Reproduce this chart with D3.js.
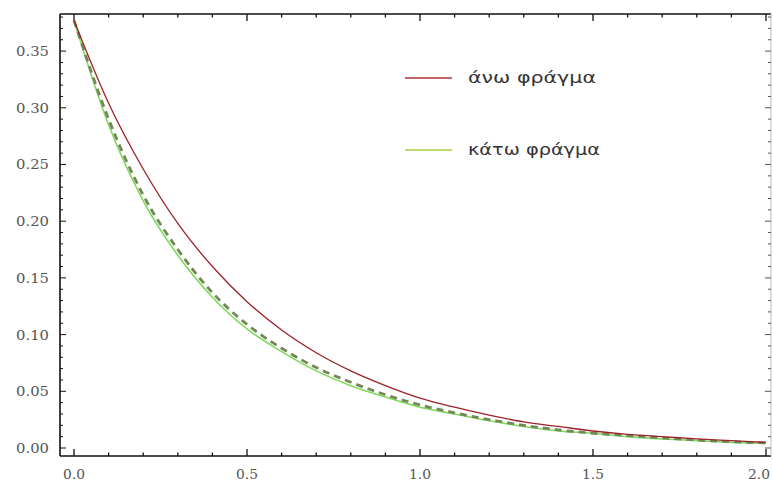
<!DOCTYPE html>
<html><head><meta charset="utf-8">
<script src="https://cdn.jsdelivr.net/npm/d3@7"></script>
<style>body{margin:0;background:#fff;}svg{display:block;}</style>
</head><body>
<svg id="c" width="773" height="484"></svg>
<script>
const xs = [0,0.1,0.2,0.3,0.4,0.5,0.6,0.7,0.8,0.9,1.0,1.1,1.2,1.3,1.4,1.5,1.6,1.7,1.8,1.9,2.0];
const upperBound = [0.377,0.304,0.246,0.198,0.160,0.129,0.104,0.084,0.068,0.055,0.044,0.036,0.029,0.023,0.019,0.015,0.012,0.010,0.008,0.0065,0.005];
const middleDashed = [0.377,0.290,0.223,0.175,0.137,0.109,0.088,0.071,0.058,0.047,0.038,0.031,0.025,0.020,0.016,0.013,0.011,0.009,0.007,0.0055,0.0045];
const lowerBound = [0.377,0.285,0.218,0.170,0.133,0.105,0.085,0.068,0.055,0.045,0.036,0.030,0.024,0.019,0.015,0.013,0.010,0.008,0.0065,0.005,0.004];
const yTicks = [0,0.05,0.10,0.15,0.20,0.25,0.30,0.35];
const xTicks = [0,0.5,1.0,1.5,2.0];
const legendLabels = ["άνω φράγμα","κάτω φράγμα"];

const svg = d3.select("#c");
const L=60,R=771,T=14,B=456;
const x = d3.scaleLinear().domain([-0.0405,2.0145]).range([L,R]);
const y = d3.scaleLinear().domain([-0.00705,0.3827]).range([B,T]);

const g = svg.append("g");
g.append("rect").attr("x",L).attr("y",T).attr("width",R-L).attr("height",B-T)
 .attr("fill","#fff").attr("stroke","none");
// frame lines
g.append("line").attr("x1",L).attr("x2",L).attr("y1",T).attr("y2",B).attr("stroke","#111").attr("stroke-width",1.6);
g.append("line").attr("x1",L).attr("x2",R).attr("y1",B).attr("y2",B).attr("stroke","#111").attr("stroke-width",1.6);
g.append("line").attr("x1",L).attr("x2",R).attr("y1",T).attr("y2",T).attr("stroke","#111").attr("stroke-width",1.6);
g.append("line").attr("x1",R).attr("x2",R).attr("y1",T).attr("y2",B).attr("stroke","#bbb").attr("stroke-width",1);

const yMinor = d3.range(0,0.381,0.01);
const xMinor = d3.range(0,2.01,0.1);
function isMajor(v,step){return Math.abs(v/step-Math.round(v/step))<1e-6;}
yMinor.forEach(v=>{
  const len = isMajor(v,0.05)?6:3;
  g.append("line").attr("x1",L).attr("x2",L+len).attr("y1",y(v)).attr("y2",y(v)).attr("stroke","#111");
  g.append("line").attr("x1",R).attr("x2",R-len).attr("y1",y(v)).attr("y2",y(v)).attr("stroke","#555");
});
xMinor.forEach(v=>{
  const len = isMajor(v,0.5)?7:3.5;
  g.append("line").attr("y1",B).attr("y2",B-len).attr("x1",x(v)).attr("x2",x(v)).attr("stroke","#111").attr("stroke-width",1.3);
  g.append("line").attr("y1",T).attr("y2",T+len).attr("x1",x(v)).attr("x2",x(v)).attr("stroke","#111").attr("stroke-width",1.3);
});

g.selectAll(".yl").data(yTicks).enter().append("text")
 .attr("x",49).attr("y",d=>y(d)+5).attr("text-anchor","end")
 .attr("font-family","DejaVu Serif").attr("font-size",13).attr("fill","#555")
 .attr("textLength",33).attr("lengthAdjust","spacingAndGlyphs")
 .text(d=>d.toFixed(2));
g.selectAll(".xl").data(xTicks).enter().append("text")
 .attr("x",d=>Math.min(x(d),759)).attr("y",479).attr("text-anchor","middle")
 .attr("font-family","DejaVu Serif").attr("font-size",13).attr("fill","#555")
 .attr("textLength",22).attr("lengthAdjust","spacingAndGlyphs")
 .text(d=>d.toFixed(1));

const line = (arr)=>d3.line().x((d,i)=>x(xs[i])).y(d=>y(d)).curve(d3.curveMonotoneX)(arr);
g.append("path").attr("d",line(lowerBound)).attr("fill","none").attr("stroke","#7fd95a").attr("stroke-width",1.6);
g.append("path").attr("d",line(middleDashed)).attr("fill","none").attr("stroke","#74875a").attr("stroke-width",2.8).attr("stroke-dasharray","7,5");
g.append("path").attr("d",line(upperBound)).attr("fill","none").attr("stroke","#9b2328").attr("stroke-width",1.3);

const leg = [{c:"#a8343a",y:78,w:128},{c:"#a9cf3e",y:150,w:132}];
leg.forEach((l,i)=>{
  g.append("line").attr("x1",405).attr("x2",452).attr("y1",l.y).attr("y2",l.y).attr("stroke",l.c).attr("stroke-width",1.5);
  g.append("text").attr("x",468).attr("y",l.y+5).attr("font-family","DejaVu Sans").attr("font-size",15)
   .attr("fill","#333").attr("textLength",l.w).attr("lengthAdjust","spacingAndGlyphs").text(legendLabels[i]);
});
</script>
</body></html>
